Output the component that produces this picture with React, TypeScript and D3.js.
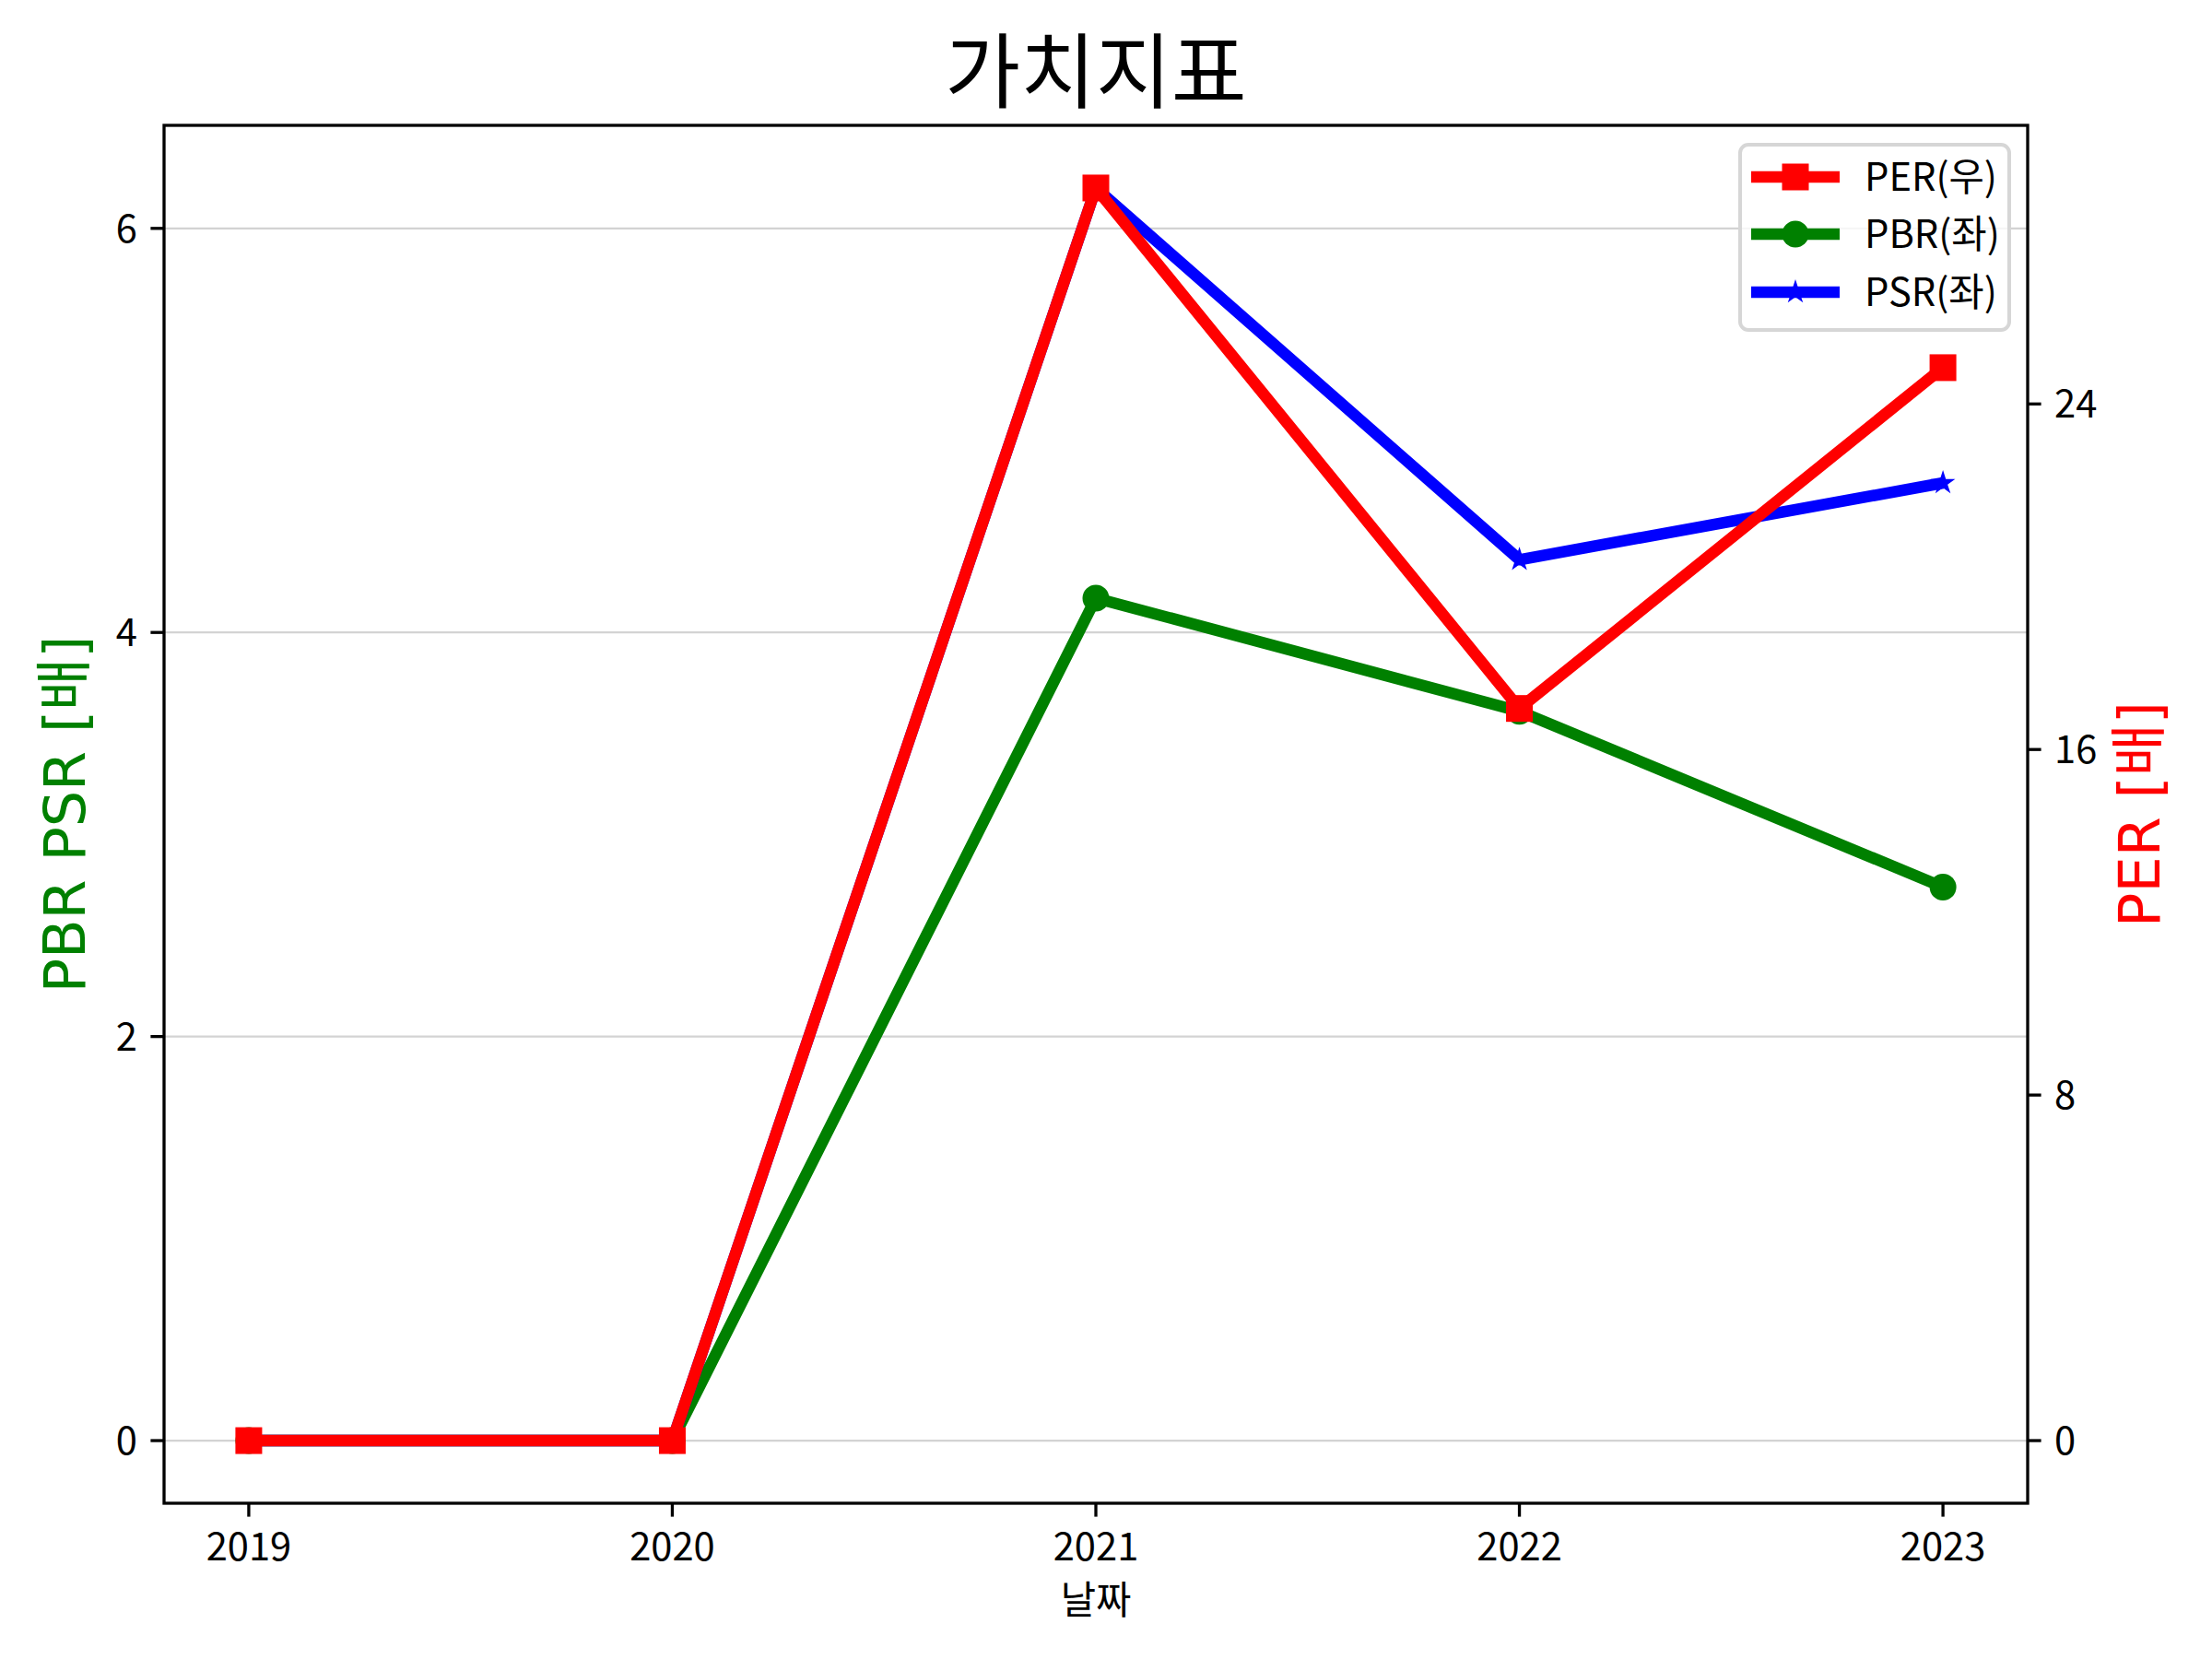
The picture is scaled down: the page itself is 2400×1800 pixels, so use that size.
import React from "react";
import * as d3 from "d3";

const years = [2019, 2020, 2021, 2022, 2023];
const perValues = [0, 0, 29.0, 16.95, 24.84];
const pbrValues = [0, 0, 4.17, 3.61, 2.74];
const psrValues = [0, 0, 6.2, 4.36, 4.74];
const leftTicks = [0, 2, 4, 6];
const rightTicks = [0, 8, 16, 24];
const title = "가치지표";
const xLabel = "날짜";
const leftLabel = "PBR PSR [배]";
const rightLabel = "PER [배]";
const legendLabels = ["PER(우)", "PBR(좌)", "PSR(좌)"];

const W = 2400;
const H = 1800;
const L = 178, R = 2200, T = 136, B = 1631;
const FONT = "'Noto Sans CJK KR', 'Noto Sans', sans-serif";
const LABEL_FONT = "'DejaVu Sans', 'Noto Sans CJK KR', sans-serif";

function padded(vals: number[]): [number, number] {
  const [mn, mx] = d3.extent(vals) as [number, number];
  const m = (mx - mn) * 0.05;
  return [mn - m, mx + m];
}

function starPath(cx: number, cy: number, r: number) {
  const pts: string[] = [];
  const ri = r * 0.38;
  for (let i = 0; i < 10; i++) {
    const a = -Math.PI / 2 + (i * Math.PI) / 5;
    const rr = i % 2 === 0 ? r : ri;
    pts.push(`${cx + rr * Math.cos(a)},${cy + rr * Math.sin(a)}`);
  }
  return "M" + pts.join("L") + "Z";
}

export default function App() {
  const x = d3.scaleLinear().domain(padded(years)).range([L, R]);
  const yL = d3.scaleLinear().domain(padded([...pbrValues, ...psrValues])).range([B, T]);
  const yR = d3.scaleLinear().domain(padded(perValues)).range([B, T]);

  const lineL = d3.line<number>().x((_, i) => x(years[i])).y((d) => yL(d));
  const lineR = d3.line<number>().x((_, i) => x(years[i])).y((d) => yR(d));

  const lw = 12.5;
  const ms = 29;

  const legendRows = [192, 254, 317];
  const legendColors = ["#ff0000", "#008000", "#0000ff"];

  return (
    <svg width={W} height={H} viewBox={`0 0 ${W} ${H}`} style={{ position: "absolute", left: 0, top: 0, background: "#fff" }}>
      <rect x={0} y={0} width={W} height={H} fill="#fff" />
      {/* grid */}
      {leftTicks.map((t) => (
        <line key={"g" + t} x1={L} x2={R} y1={yL(t)} y2={yL(t)} stroke="#d3d3d3" strokeWidth={2.2} />
      ))}
      {/* left series */}
      <path d={lineL(pbrValues) || ""} fill="none" stroke="#008000" strokeWidth={lw} strokeLinejoin="round" strokeLinecap="butt" />
      {pbrValues.map((v, i) => (
        <circle key={"pbr" + i} cx={x(years[i])} cy={yL(v)} r={ms / 2} fill="#008000" />
      ))}
      <path d={lineL(psrValues) || ""} fill="none" stroke="#0000ff" strokeWidth={lw} strokeLinejoin="round" strokeLinecap="butt" />
      {psrValues.map((v, i) => (
        <path key={"psr" + i} d={starPath(x(years[i]), yL(v), 14)} fill="#0000ff" />
      ))}
      {/* right series */}
      <path d={lineR(perValues) || ""} fill="none" stroke="#ff0000" strokeWidth={lw} strokeLinejoin="round" strokeLinecap="butt" />
      {perValues.map((v, i) => (
        <rect key={"per" + i} x={x(years[i]) - ms / 2} y={yR(v) - ms / 2} width={ms} height={ms} fill="#ff0000" />
      ))}
      {/* frame */}
      <rect x={L} y={T} width={R - L} height={B - T} fill="none" stroke="#000" strokeWidth={3.3} />
      {/* x ticks */}
      {years.map((yv) => (
        <g key={"xt" + yv}>
          <line x1={x(yv)} x2={x(yv)} y1={B} y2={B + 14.6} stroke="#000" strokeWidth={3.3} />
          <text x={x(yv)} y={B + 62} textAnchor="middle" fontFamily={FONT} fontSize={41.7} fill="#000">
            {yv}
          </text>
        </g>
      ))}
      {/* left ticks */}
      {leftTicks.map((t) => (
        <g key={"lt" + t}>
          <line x1={L - 14.6} x2={L} y1={yL(t)} y2={yL(t)} stroke="#000" strokeWidth={3.3} />
          <text x={L - 29} y={yL(t)} dy="0.36em" textAnchor="end" fontFamily={FONT} fontSize={41.7} fill="#000">
            {t}
          </text>
        </g>
      ))}
      {/* right ticks */}
      {rightTicks.map((t) => (
        <g key={"rt" + t}>
          <line x1={R} x2={R + 14.6} y1={yR(t)} y2={yR(t)} stroke="#000" strokeWidth={3.3} />
          <text x={R + 29} y={yR(t)} dy="0.36em" textAnchor="start" fontFamily={FONT} fontSize={41.7} fill="#000">
            {t}
          </text>
        </g>
      ))}
      {/* title */}
      <text x={(L + R) / 2} y={110} textAnchor="middle" fontFamily={FONT} fontSize={89} fill="#000">
        {title}
      </text>
      {/* x label */}
      <text x={(L + R) / 2} y={1751} textAnchor="middle" fontFamily={FONT} fontSize={41.7} fill="#000">
        {xLabel}
      </text>
      {/* y labels */}
      <text transform={`translate(92, ${(T + B) / 2}) rotate(-90)`} textAnchor="middle" fontFamily={LABEL_FONT} fontSize={62} fill="#008000">
        {leftLabel}
      </text>
      <text transform={`translate(2343, ${(T + B) / 2}) rotate(-90)`} textAnchor="middle" fontFamily={LABEL_FONT} fontSize={62} fill="#ff0000">
        {rightLabel}
      </text>
      {/* legend */}
      <rect x={1888} y={157} width={292} height={201} rx={9} ry={9} fill="#fff" fillOpacity={0.8} stroke="#d6d6d6" strokeWidth={4} />
      {legendRows.map((ry, i) => (
        <g key={"lg" + i}>
          <line x1={1900} x2={1996} y1={ry} y2={ry} stroke={legendColors[i]} strokeWidth={lw} />
          {i === 0 && <rect x={1948 - ms / 2} y={ry - ms / 2} width={ms} height={ms} fill={legendColors[i]} />}
          {i === 1 && <circle cx={1948} cy={ry} r={ms / 2} fill={legendColors[i]} />}
          {i === 2 && <path d={starPath(1948, ry, 14)} fill={legendColors[i]} />}
          <text x={2023} y={ry} dy="0.36em" fontFamily={FONT} fontSize={41.7} fill="#000">
            {legendLabels[i]}
          </text>
        </g>
      ))}
    </svg>
  );
}
